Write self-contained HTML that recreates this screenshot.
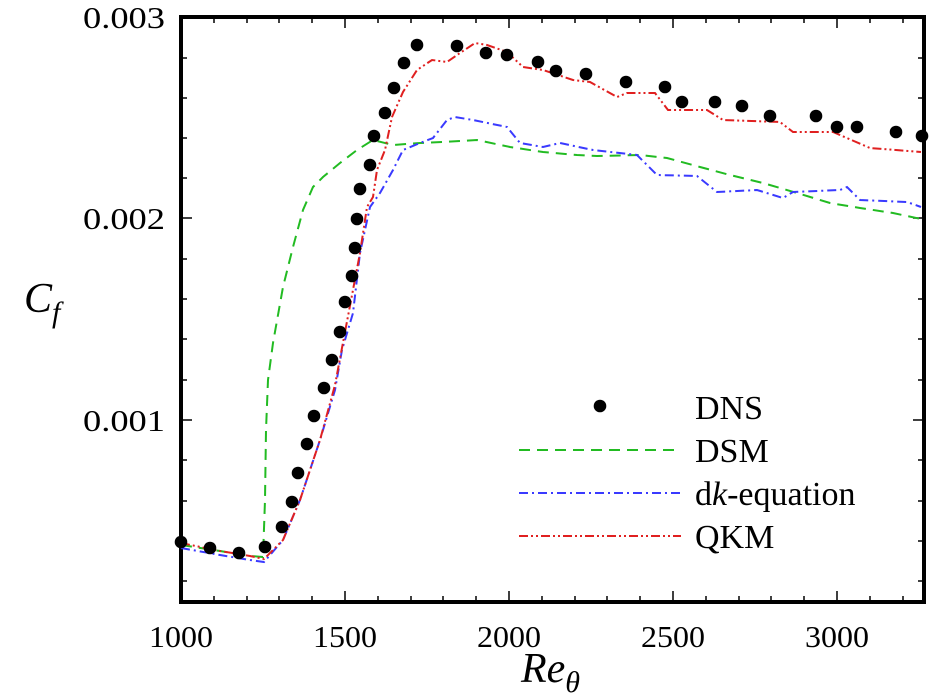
<!DOCTYPE html>
<html><head><meta charset="utf-8"><style>
html,body{margin:0;padding:0;background:#fff;}
svg{display:block;font-family:"Liberation Serif",serif;}
</style></head><body>
<svg width="936" height="698" viewBox="0 0 936 698" xmlns="http://www.w3.org/2000/svg">
<rect width="936" height="698" fill="#fff"/>
<g stroke="#000" stroke-width="1.5" fill="none">
<path d="
M181,602v-6M214,602v-6M247,602v-6M279,602v-6M312,602v-6M345,602v-11M378,602v-6M411,602v-6M443,602v-6M476,602v-6M509,602v-11M542,602v-6M575,602v-6M607,602v-6M640,602v-6M673,602v-11M706,602v-6M739,602v-6M771,602v-6M804,602v-6M837,602v-11M870,602v-6M903,602v-6
M214,17v6M247,17v6M279,17v6M312,17v6M345,17v11M378,17v6M411,17v6M443,17v6M476,17v6M509,17v11M542,17v6M575,17v6M607,17v6M640,17v6M673,17v11M706,17v6M739,17v6M771,17v6M804,17v6M837,17v11M870,17v6M903,17v6
M181,58h6M181,98h6M181,138h6M181,178h6M181,218h11M181,259h6M181,299h6M181,339h6M181,380h6M181,420h11M181,460h6M181,501h6M181,541h6M181,581h6
M924,58h-6M924,98h-6M924,138h-6M924,178h-6M924,218h-11M924,259h-6M924,299h-6M924,339h-6M924,380h-6M924,420h-11M924,460h-6M924,501h-6M924,541h-6M924,581h-6"/>
</g>
<rect x="181" y="17" width="743" height="585" fill="none" stroke="#000" stroke-width="4"/>
<polyline fill="none" stroke="#22bb22" stroke-width="2" stroke-dasharray="11,7" points="181,545 220,551 250,556 263,557 265,500 266,430 268,380 273,343 283,287 293,247 303,210 313,187 323,177 340,163 357,150 373,140 393,145 420,143 443,142 477,140 510,147 543,152 577,155 597,156 640,155 667,158 700,167 730,175 763,183 797,193 830,203 860,208 893,213 921,219"/>
<polyline fill="none" stroke="#3a3aff" stroke-width="2" stroke-dasharray="9,4,2,4" points="181,548 220,555 250,560 264,562 283,540 300,500 320,440 335,390 342,350 353,313 360,253 370,207 380,193 393,170 403,150 420,143 433,138 447,120 455,117 473,120 507,127 520,143 543,147 560,143 593,150 637,155 657,175 697,176 717,192 757,190 783,198 793,192 840,190 847,187 860,200 907,202 921,207"/>
<polyline fill="none" stroke="#e02020" stroke-width="2" stroke-dasharray="9,3,2,3,2,3" points="181,543 220,551 250,556 264,559 283,540 300,500 320,440 335,385 345,332 360,253 367,207 373,197 377,170 385,150 392,117 403,92 417,70 432,60 447,62 460,53 475,43 487,45 507,52 523,67 543,70 573,80 590,82 617,97 627,93 655,93 668,110 707,110 723,120 780,122 793,132 833,132 870,148 921,152"/>
<g fill="#000">
<circle cx="181" cy="542" r="6.3"/><circle cx="210" cy="548" r="6.3"/><circle cx="239" cy="553" r="6.3"/><circle cx="265" cy="547" r="6.3"/><circle cx="282" cy="527" r="6.3"/><circle cx="292" cy="502" r="6.3"/><circle cx="298" cy="473" r="6.3"/><circle cx="307" cy="444" r="6.3"/><circle cx="314" cy="416" r="6.3"/><circle cx="324" cy="388" r="6.3"/><circle cx="332" cy="360" r="6.3"/><circle cx="340" cy="332" r="6.3"/><circle cx="345" cy="302" r="6.3"/><circle cx="352" cy="276" r="6.3"/><circle cx="355" cy="248" r="6.3"/><circle cx="357" cy="219" r="6.3"/><circle cx="360" cy="189" r="6.3"/><circle cx="370" cy="165" r="6.3"/><circle cx="374" cy="136" r="6.3"/><circle cx="385" cy="113" r="6.3"/><circle cx="394" cy="88" r="6.3"/><circle cx="404" cy="63" r="6.3"/><circle cx="417" cy="45" r="6.3"/><circle cx="457" cy="46" r="6.3"/><circle cx="486" cy="53" r="6.3"/><circle cx="507" cy="55" r="6.3"/><circle cx="538" cy="62" r="6.3"/><circle cx="556" cy="71" r="6.3"/><circle cx="586" cy="74" r="6.3"/><circle cx="626" cy="82" r="6.3"/><circle cx="665" cy="87" r="6.3"/><circle cx="682" cy="102" r="6.3"/><circle cx="715" cy="102" r="6.3"/><circle cx="742" cy="106" r="6.3"/><circle cx="770" cy="116" r="6.3"/><circle cx="816" cy="116" r="6.3"/><circle cx="837" cy="127" r="6.3"/><circle cx="857" cy="127" r="6.3"/><circle cx="896" cy="132" r="6.3"/><circle cx="922" cy="136" r="6.3"/>
</g>
<circle cx="600" cy="406" r="6.3" fill="#000"/>
<line x1="519" y1="450" x2="681" y2="450" stroke="#22bb22" stroke-width="2" stroke-dasharray="11,7"/>
<line x1="519" y1="493" x2="681" y2="493" stroke="#3a3aff" stroke-width="2" stroke-dasharray="9,4,2,4"/>
<line x1="519" y1="536" x2="681" y2="536" stroke="#e02020" stroke-width="2" stroke-dasharray="9,3,2,3,2,3"/>
<g font-size="34" fill="#000">
<text x="695" y="419">DNS</text>
<text x="695" y="462">DSM</text>
<text x="695" y="505">d<tspan font-style="italic">k</tspan>-equation</text>
<text x="695" y="548">QKM</text>
</g>
<g font-size="31" fill="#000">
<text x="83" y="28" textLength="82" lengthAdjust="spacingAndGlyphs">0.003</text>
<text x="83" y="229" textLength="82" lengthAdjust="spacingAndGlyphs">0.002</text>
<text x="83" y="431" textLength="82" lengthAdjust="spacingAndGlyphs">0.001</text>
</g>
<g font-size="31" fill="#000" text-anchor="middle">
<text x="181" y="647" textLength="64" lengthAdjust="spacingAndGlyphs">1000</text>
<text x="345" y="647" textLength="64" lengthAdjust="spacingAndGlyphs">1500</text>
<text x="509" y="647" textLength="64" lengthAdjust="spacingAndGlyphs">2000</text>
<text x="673" y="647" textLength="64" lengthAdjust="spacingAndGlyphs">2500</text>
<text x="837" y="647" textLength="64" lengthAdjust="spacingAndGlyphs">3000</text>
</g>
<text x="521" y="682" font-size="42" font-style="italic">Re<tspan font-size="30" dy="10">θ</tspan></text>
<text x="24" y="312" font-size="42" font-style="italic">C<tspan font-size="30" dy="10">f</tspan></text>
</svg>
</body></html>
